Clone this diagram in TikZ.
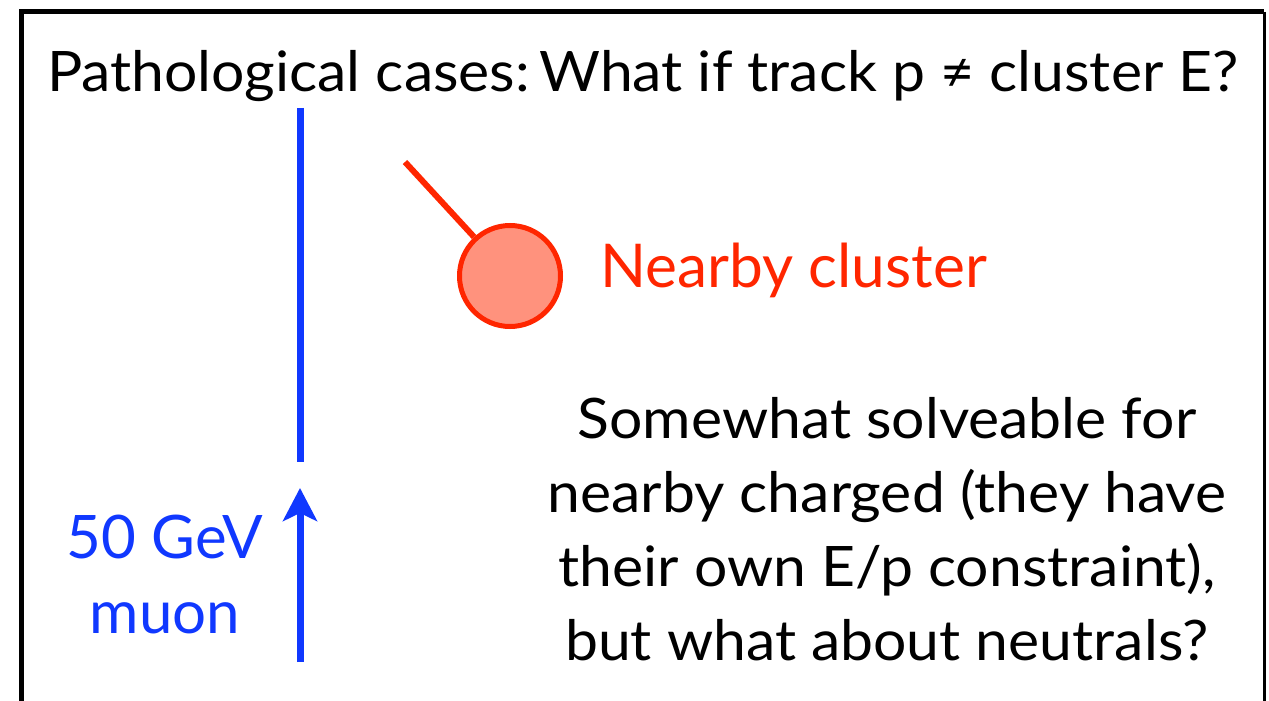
\documentclass[tikz,border=0pt]{standalone}
\usepackage{fontspec}
\setmainfont{Lato}
\newfontfamily\slidefont[FakeStretch=1.055]{Lato}
\usetikzlibrary{arrows.meta}
\definecolor{muonblue}{RGB}{16,56,255}
\definecolor{clusterred}{RGB}{255,38,0}
\definecolor{clusterfill}{RGB}{255,146,125}
\tikzset{
  track/.style={draw=muonblue, line width=3.5pt},
  label/.style={inner sep=0pt, outer sep=0pt},
  bodytext/.style={label, font=\slidefont\fontsize{27.9pt}{37pt}\selectfont},
}
\begin{document}
\begin{tikzpicture}[x=0.5pt, y=-0.5pt]
  % canvas
  \useasboundingbox (0,0) rectangle (1269,701);
  \fill[white] (0,0) rectangle (1269,701);
  % open frame (no bottom edge)
  \draw[line width=2.5pt] (21.5,701) -- (21.5,12) -- (1264,12);
  \draw[line width=1.5pt] (1264,12) -- (1264,701);

  % title
  \node[bodytext, anchor=base west] (title) at (47,92)
    {Pathological cases:\,What if track p ≠ cluster E?};

  % muon track and its direction arrow
  \coordinate (trackTop) at (300,108);
  \coordinate (trackBot) at (300,462);
  \draw[track] (trackTop) -- (trackBot);
  \coordinate (arrTail) at (300,662);
  \coordinate (arrTip) at (300,488);
  \draw[track, -{Stealth[length=16.5pt, width=17pt, inset=4pt]}] (arrTail) -- (arrTip);
  \node[label, anchor=base, text=muonblue, font=\fontsize{30pt}{36pt}\selectfont] (energy) at (165,558) {50 GeV};
  \node[label, anchor=base, text=muonblue, font=\fontsize{30pt}{36pt}\selectfont] (muon) at (165,633) {muon};

  % nearby cluster with its stub
  \node[circle, draw=clusterred, fill=clusterfill, line width=2.5pt, minimum size=50.5pt, inner sep=0pt] (cluster) at (510,276) {};
  \coordinate (stub) at (405,162);
  \draw[draw=clusterred, line width=3pt] (stub) -- (cluster);
  \node[label, anchor=base west, text=clusterred, font=\fontsize{30.2pt}{36pt}\selectfont] (clusterlabel) at (600,287) {Nearby cluster};

  % comment text (base anchor sits on the last line)
  \node[bodytext, anchor=base, align=center] (note) at (887,660)
    {Somewhat solveable for\\nearby charged (they have\\their own E/p constraint),\\but what about neutrals?};
\end{tikzpicture}
\end{document}
